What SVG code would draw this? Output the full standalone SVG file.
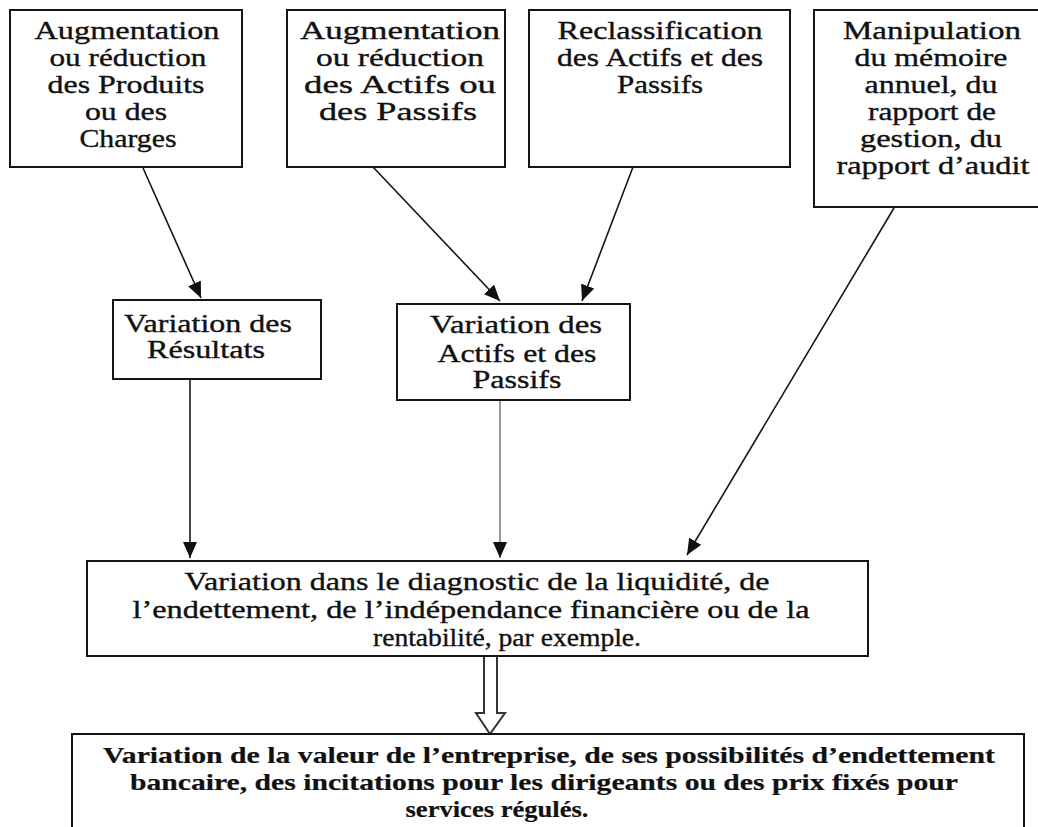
<svg xmlns="http://www.w3.org/2000/svg" width="1038" height="827" viewBox="0 0 1038 827">
<style>
.box{fill:#fff;stroke:#151515;stroke-width:2}
.t{font-family:"Liberation Serif","Times New Roman",serif;font-size:25px;fill:#111;stroke:#111;stroke-width:0.35;text-anchor:middle}
.b{font-weight:bold;font-size:24px;stroke-width:0.2}
.c{stroke:#151515;stroke-width:1.6;fill:none}
.g{stroke:#808080;stroke-width:1.6;fill:none}
</style>
<defs>
<marker id="ah" markerUnits="userSpaceOnUse" markerWidth="16" markerHeight="14" viewBox="0 0 16 14" refX="16" refY="7" orient="auto"><path d="M0,0 L16,7 L0,14 z" fill="#111"/></marker>
</defs>
<rect x="0" y="0" width="1038" height="827" fill="#fff"/>
<g id="connectors">
<line class="c" x1="143" y1="168" x2="201" y2="298" marker-end="url(#ah)"/>
<line class="c" x1="373" y1="167" x2="500" y2="301" marker-end="url(#ah)"/>
<line class="c" x1="633" y1="167" x2="582" y2="301" marker-end="url(#ah)"/>
<line class="c" x1="894" y1="208" x2="687" y2="555" marker-end="url(#ah)"/>
<line class="c" x1="190" y1="379" x2="190" y2="558" marker-end="url(#ah)"/>
<line class="g" x1="500" y1="400" x2="500" y2="558" marker-end="url(#ah)"/>
<path d="M484,656 V713 H476 L490,734 L505,713 H497 V656" fill="#fff" stroke="#333" stroke-width="2"/>
</g>
<g id="n1">
<rect class="box" x="10" y="10" width="232" height="157"/>
<text class="t" x="127" y="39" textLength="185" lengthAdjust="spacingAndGlyphs">Augmentation</text>
<text class="t" x="128" y="66" textLength="157" lengthAdjust="spacingAndGlyphs">ou réduction</text>
<text class="t" x="126" y="93" textLength="157" lengthAdjust="spacingAndGlyphs">des Produits</text>
<text class="t" x="126" y="120" textLength="82" lengthAdjust="spacingAndGlyphs">ou des</text>
<text class="t" x="128" y="147" textLength="97" lengthAdjust="spacingAndGlyphs">Charges</text>
</g>
<g id="n2">
<rect class="box" x="287" y="10" width="218" height="157"/>
<text class="t" x="400" y="39" textLength="200" lengthAdjust="spacingAndGlyphs">Augmentation</text>
<text class="t" x="400" y="66" textLength="168" lengthAdjust="spacingAndGlyphs">ou réduction</text>
<text class="t" x="400" y="93" textLength="192" lengthAdjust="spacingAndGlyphs">des Actifs ou</text>
<text class="t" x="398" y="120" textLength="158" lengthAdjust="spacingAndGlyphs">des Passifs</text>
</g>
<g id="n3">
<rect class="box" x="529" y="10" width="261" height="157"/>
<text class="t" x="660" y="39" textLength="205" lengthAdjust="spacingAndGlyphs">Reclassification</text>
<text class="t" x="660" y="66" textLength="206" lengthAdjust="spacingAndGlyphs">des Actifs et des</text>
<text class="t" x="660" y="93" textLength="86" lengthAdjust="spacingAndGlyphs">Passifs</text>
</g>
<g id="n4">
<rect class="box" x="814" y="10" width="240" height="197"/>
<text class="t" x="932" y="39" textLength="178" lengthAdjust="spacingAndGlyphs">Manipulation</text>
<text class="t" x="931" y="66" textLength="153" lengthAdjust="spacingAndGlyphs">du mémoire</text>
<text class="t" x="931" y="93" textLength="133" lengthAdjust="spacingAndGlyphs">annuel, du</text>
<text class="t" x="932" y="120" textLength="128" lengthAdjust="spacingAndGlyphs">rapport de</text>
<text class="t" x="931" y="147" textLength="142" lengthAdjust="spacingAndGlyphs">gestion, du</text>
<text class="t" x="933" y="174" textLength="193" lengthAdjust="spacingAndGlyphs">rapport d’audit</text>
</g>
<g id="n5">
<rect class="box" x="113" y="300" width="208" height="79"/>
<text class="t" x="208" y="332" textLength="168" lengthAdjust="spacingAndGlyphs">Variation des</text>
<text class="t" x="206" y="358" textLength="118" lengthAdjust="spacingAndGlyphs">Résultats</text>
</g>
<g id="n6">
<rect class="box" x="397" y="304" width="233" height="96"/>
<text class="t" x="516" y="333" textLength="172" lengthAdjust="spacingAndGlyphs">Variation des</text>
<text class="t" x="517" y="362" textLength="159" lengthAdjust="spacingAndGlyphs">Actifs et des</text>
<text class="t" x="517" y="388" textLength="89" lengthAdjust="spacingAndGlyphs">Passifs</text>
</g>
<g id="n7">
<rect class="box" x="87" y="561" width="781" height="95"/>
<text class="t" x="477" y="590" textLength="585" lengthAdjust="spacingAndGlyphs">Variation dans le diagnostic de la liquidité, de</text>
<text class="t" x="471" y="618" textLength="677" lengthAdjust="spacingAndGlyphs">l’endettement, de l’indépendance financière ou de la</text>
<text class="t" x="507" y="646" textLength="268" lengthAdjust="spacingAndGlyphs">rentabilité, par exemple.</text>
</g>
<g id="n8">
<rect class="box" x="72" y="734" width="952" height="120"/>
<text class="t b" x="549" y="763" textLength="892" lengthAdjust="spacingAndGlyphs">Variation de la valeur de l’entreprise, de ses possibilités d’endettement</text>
<text class="t b" x="544" y="790" textLength="828" lengthAdjust="spacingAndGlyphs">bancaire, des incitations pour les dirigeants ou des prix fixés pour</text>
<text class="t b" x="497" y="817" textLength="183" lengthAdjust="spacingAndGlyphs">services régulés.</text>
</g>
</svg>
